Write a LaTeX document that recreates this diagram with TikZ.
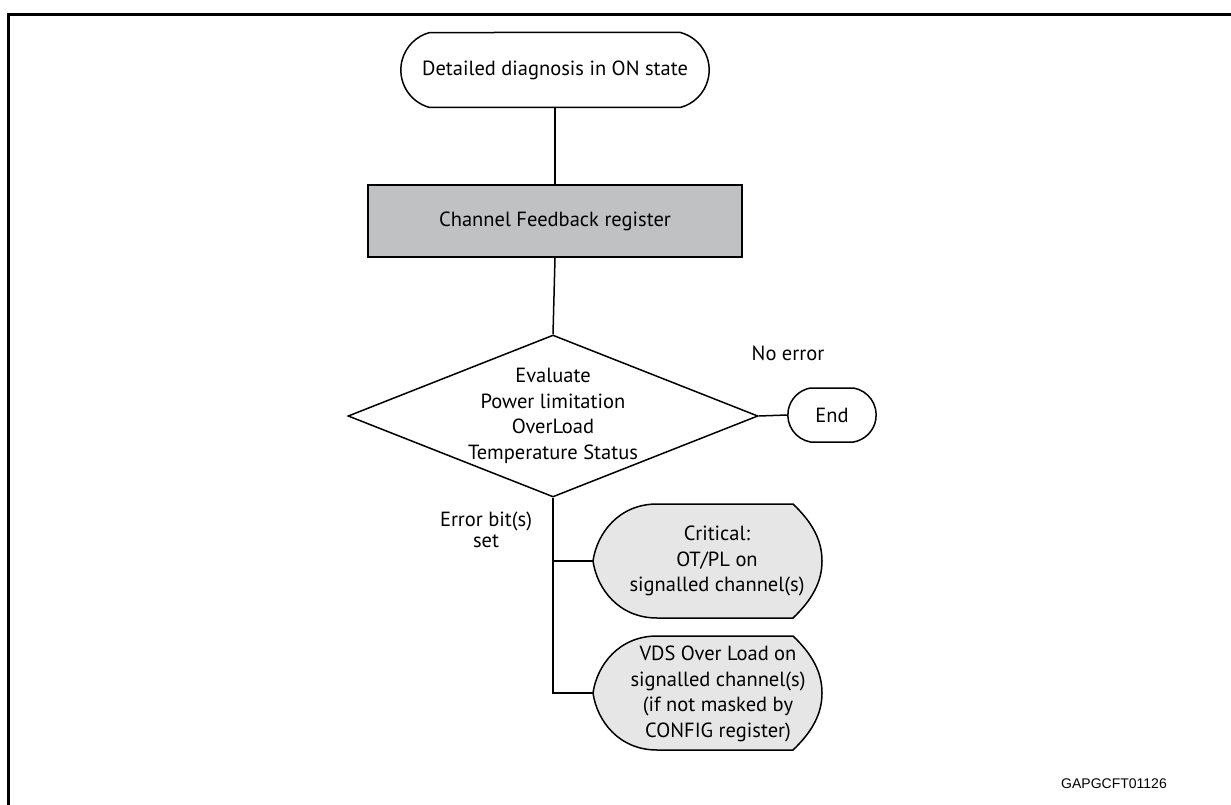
\documentclass[tikz,border=0pt]{standalone}
\usepackage{fontspec}
\setmainfont{PT Sans}
\newfontfamily\codefont{Liberation Sans}
\usepackage{xcolor}
\usetikzlibrary{shapes.geometric,shapes.misc,positioning,calc}

\definecolor{regfill}{RGB}{192,193,195}
\definecolor{dispfill}{RGB}{230,230,231}

% display-type outline, centred on (#1,#2)
\newcommand{\dispshape}[2]{%
  \draw[displine] (#1-114,#2) .. controls (#1-110,#2-28) and (#1-88,#2-57) .. (#1-50,#2-57)
    -- (#1+86,#2-57) .. controls (#1+106,#2-38) and (#1+115,#2-20) .. (#1+115,#2)
    .. controls (#1+115,#2+20) and (#1+106,#2+38) .. (#1+86,#2+57)
    -- (#1-50,#2+57) .. controls (#1-88,#2+57) and (#1-110,#2+28) .. (#1-114,#2) -- cycle;}

\tikzset{
  flowline/.style={line width=1.5pt},
  txt/.style={font=\fontsize{20.5}{25.5}\selectfont, align=center},
  terminal/.style={draw, line width=1.5pt, rounded rectangle, rounded rectangle arc length=150, txt},
  regbox/.style={draw, line width=1.5pt, fill=regfill, minimum width=374pt, minimum height=72pt, txt},
  decision/.style={draw, line width=1.5pt, diamond, minimum width=410pt, minimum height=162pt, inner sep=0pt},
  displine/.style={line width=1.5pt, fill=dispfill}
}

\begin{document}
\begin{tikzpicture}[x=1pt, y=-1pt]
  \useasboundingbox (0,0) rectangle (1231,805);
  \draw[line width=3pt] (1231,15) -- (8,15) -- (8,805);

  \node[terminal, minimum width=315pt, minimum height=75pt] (start) at (555,70) {Detailed diagnosis in ON state};
  \node[regbox] (reg) at (555,221) {Channel Feedback register};
  \node[decision] (eval) at (553,416) {};
  \node[txt] (evaltext) at (eval.center) {Evaluate\\Power limitation\\OverLoad\\Temperature Status};
  \node[terminal, minimum width=95pt, minimum height=54pt, rounded rectangle arc length=160] (end) at (832,415) {End};

  \dispshape{707}{561}
  \dispshape{707}{693}
  \coordinate (crittip) at (593,561);
  \coordinate (vdstip) at (593,693);
  \node[txt] (crit) at (717,561) {Critical:\\OT/PL on\\signalled channel(s)};
  \node[txt] (vds) at (718,694) {VDS Over Load on\\signalled channel(s)\hspace*{14pt}\\(if not masked by\\CONFIG register)};

  \node[txt] (noerr) at (788,353) {No error};
  \node[font=\fontsize{20.5}{21}\selectfont, align=center] (errset) at (486,530) {Error bit(s)\\set};
  \node[font=\codefont\fontsize{14}{16}\selectfont] (figid) at (1114,784) {GAPGCFT01126};

  \draw[flowline] (start.south) -- (reg.north);
  \draw[flowline] (reg.south) -- (eval.north);
  \draw[flowline] (eval.east) -- (end.west);
  \draw[flowline] (eval.south) |- (vdstip);
  \draw[flowline] (eval.south |- crittip) -- (crittip);
\end{tikzpicture}
\end{document}
